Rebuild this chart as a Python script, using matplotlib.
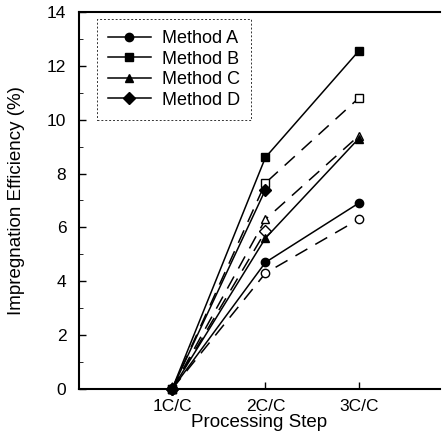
import numpy as np
import matplotlib
matplotlib.use("Agg")
import matplotlib.pyplot as plt
from matplotlib.ticker import MultipleLocator

plt.rcParams["font.family"] = ["Liberation Sans", "DejaVu Sans"]

steps = ["1C/C", "2C/C", "3C/C"]
methods = ["Method A", "Method B", "Method C", "Method D"]
markers = ["o", "s", "^", "D"]

# filled markers, solid lines
filled = {
    "Method A": [0, 4.7, 6.9],
    "Method B": [0, 8.6, 12.55],
    "Method C": [0, 5.6, 9.3],
    "Method D": [0, 7.4, np.nan],
}
# open markers, dashed lines
hollow = {
    "Method A": [0, 4.3, 6.3],
    "Method B": [0, 7.65, 10.8],
    "Method C": [0, 6.3, 9.4],
    "Method D": [0, 5.85, np.nan],
}

x = np.arange(1, len(steps) + 1)

fig = plt.figure(figsize=(4.48, 4.42), dpi=100)
ax = fig.add_axes([0.176, 0.12, 0.806, 0.853])

for name, m in zip(methods, markers):
    ax.plot(x, hollow[name], color="black", lw=1.1, ls=(0, (9, 6)),
            marker=m, ms=6, mfc="white", mec="black", mew=1.0, clip_on=False)
for name, m in zip(methods, markers):
    ax.plot(x, filled[name], color="black", lw=1.1, ls="-",
            marker=m, ms=6, mfc="black", mec="black", clip_on=False,
            label=name)

ax.set_xlim(0, 3.87)
ax.set_ylim(0, 14)
ax.set_xticks(x)
ax.set_xticklabels(steps)
ax.yaxis.set_major_locator(MultipleLocator(2))
ax.yaxis.set_minor_locator(MultipleLocator(1))
ax.tick_params(direction="in", labelsize=12.5, length=5, width=1)
ax.tick_params(axis="y", pad=9)
ax.tick_params(axis="x", pad=7)
ax.tick_params(which="minor", direction="in", length=3)
ax.spines["right"].set_visible(False)
for s in ["left", "bottom", "top"]:
    ax.spines[s].set_linewidth(1.5)

ax.set_xlabel("Processing Step", fontsize=13.5, labelpad=0)
ax.set_ylabel("Impregnation Efficiency (%)", fontsize=13.5, labelpad=16)

leg = ax.legend(loc="upper left", bbox_to_anchor=(0.025, 1.005), fontsize=13,
                handlelength=2.4, handletextpad=0.6, labelspacing=0.2,
                fancybox=False, borderpad=0.6)
leg.get_frame().set_edgecolor("black")
leg.get_frame().set_linestyle((0, (2, 2)))
leg.get_frame().set_linewidth(0.7)

fig.savefig("out.png", dpi=100)
